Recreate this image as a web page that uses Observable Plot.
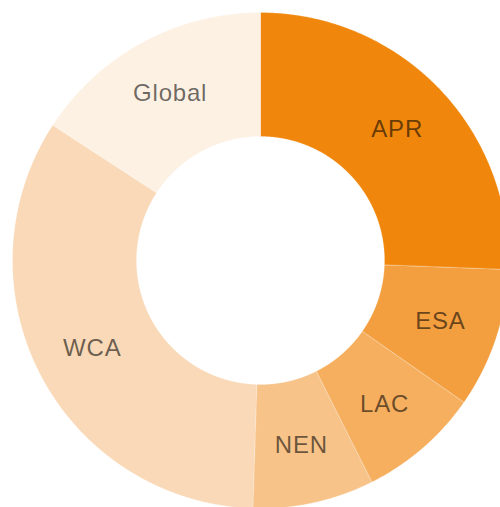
<!DOCTYPE html>
<html><head><meta charset="utf-8">
<script src="https://cdn.jsdelivr.net/npm/d3@7"></script>
<script src="https://cdn.jsdelivr.net/npm/@observablehq/plot@0.6"></script>
<style>
html,body{margin:0;padding:0;background:#fff;}
#chart svg text{letter-spacing:0.8px;}
</style>
</head><body><div id="chart"></div>
<script>
const regions = ["APR", "ESA", "LAC", "NEN", "WCA", "Global"];
const shares = [25.6, 9.1, 7.9, 7.9, 33.7, 15.8];
const colors = ["#F0870C", "#F39E3F", "#F5AF5F", "#F7C389", "#F9D9B7", "#FDF1E4"];

const innerRatio = 0.5;
const pie = d3.pie().sort(null).value(d => d.share)(regions.map((r, i) => ({region: r, share: shares[i]})));

const slices = [];
pie.forEach(p => {
  const n = Math.max(2, Math.ceil((p.endAngle - p.startAngle) / 0.004));
  for (let k = 0; k <= n; k++) {
    const a = p.startAngle + (p.endAngle - p.startAngle) * k / n;
    slices.push({region: p.data.region, x: Math.sin(a), y: Math.cos(a)});
  }
  for (let k = n; k >= 0; k--) {
    const a = p.startAngle + (p.endAngle - p.startAngle) * k / n;
    slices.push({region: p.data.region, x: innerRatio * Math.sin(a), y: innerRatio * Math.cos(a)});
  }
});
const labels = pie.map(p => {
  const a = (p.startAngle + p.endAngle) / 2, r = 0.765;
  return {region: p.data.region, x: r * Math.sin(a), y: r * Math.cos(a)};
});

const chart = Plot.plot({
  width: 500, height: 507, margin: 0,
  x: {domain: [-260 / 248, 240 / 248], axis: null},
  y: {domain: [-247 / 248, 260 / 248], axis: null},
  color: {domain: regions, range: colors},
  marks: [
    Plot.line(slices, {x: "x", y: "y", z: "region", fill: "region", stroke: "white", strokeWidth: 0.4, strokeOpacity: 0.6, curve: "linear-closed"}),
    Plot.text(labels, {x: "x", y: "y", text: "region", fontSize: 24, fontFamily: "Liberation Sans", fill: "#000", fillOpacity: 0.58})
  ]
});
document.getElementById("chart").appendChild(chart);
</script>
</body></html>
